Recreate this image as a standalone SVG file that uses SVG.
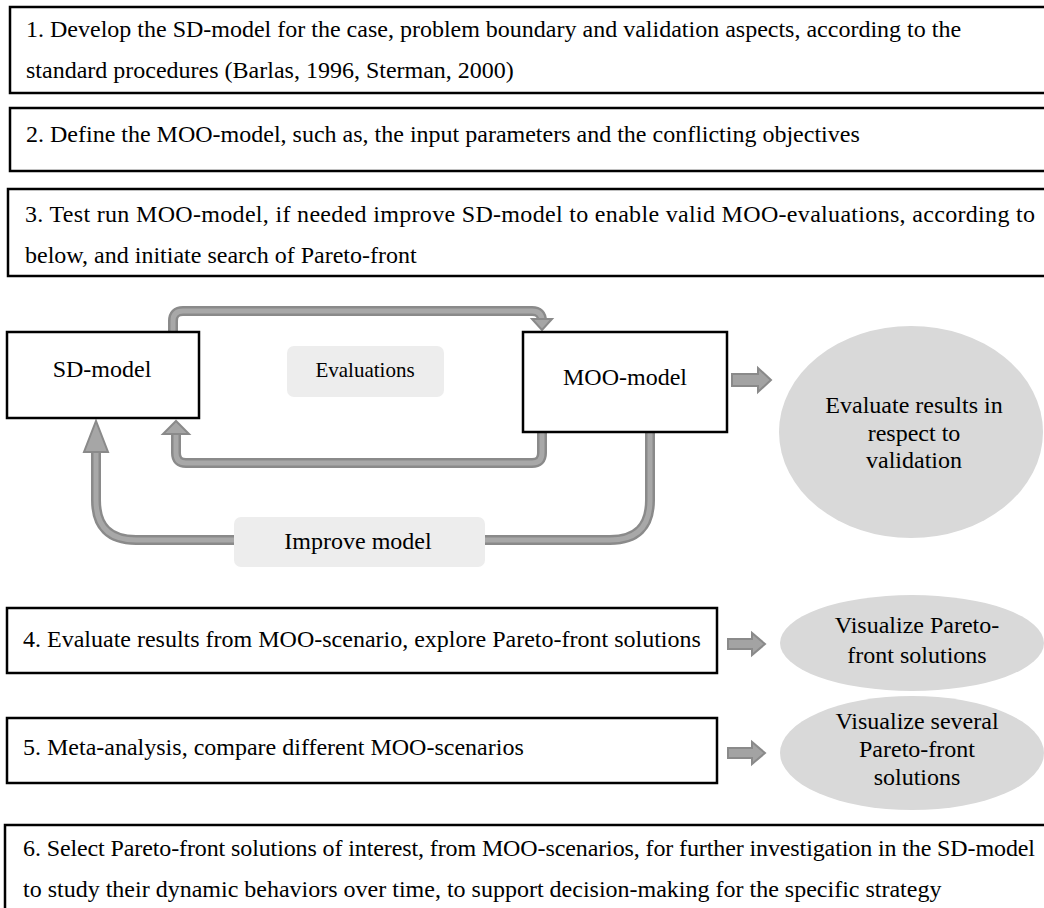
<svg xmlns="http://www.w3.org/2000/svg" width="1044" height="908" viewBox="0 0 1044 908">
<style>
text{font-family:"Liberation Serif","Times New Roman",serif;font-size:24px;fill:#000}
.box{fill:#fff;stroke:#000;stroke-width:2.5}
.ell{fill:#d9d9d9}
.lbl{fill:#ededed}
.c{text-anchor:middle}
.wo{fill:none;stroke:#8a8a8a;stroke-width:10}
.wi{fill:none;stroke:#a8a8a8;stroke-width:5}
.ah{fill:#a6a6a6;stroke:#8a8a8a;stroke-width:2;stroke-linejoin:miter}
.ba{fill:#a3a3a3;stroke:#8a8a8a;stroke-width:2}
</style>
<rect width="1044" height="908" fill="#fff"/>
<g id="step1"><rect class="box" x="10" y="7" width="1100" height="86"/>
<text x="26" y="37">1. Develop the SD-model for the case, problem boundary and validation aspects, according to the</text>
<text x="26" y="78">standard procedures (Barlas, 1996, Sterman, 2000)</text></g>
<g id="step2"><rect class="box" x="10" y="108" width="1100" height="63"/>
<text x="26" y="142">2. Define the MOO-model, such as, the input parameters and the conflicting objectives</text></g>
<g id="step3"><rect class="box" x="8" y="189" width="1100" height="87"/>
<text x="25" y="222" textLength="1010" lengthAdjust="spacing">3. Test run MOO-model, if needed improve SD-model to enable valid MOO-evaluations, according to</text>
<text x="25" y="263">below, and initiate search of Pareto-front</text></g>
<g id="connectors">
<path class="wo" d="M173 332 V321 Q173 311 183 311 H532 Q542 311 542 321"/>
<path class="wi" d="M173 332 V321 Q173 311 183 311 H532 Q542 311 542 321"/>
<polygon class="ah" points="532,319 552,319 542,330"/>
<path class="wo" d="M542 432 V453 Q542 463 532 463 H186 Q176 463 176 453 V434"/>
<path class="wi" d="M542 432 V453 Q542 463 532 463 H186 Q176 463 176 453 V434"/>
<polygon class="ah" points="163,434 189,434 176,421"/>
<path class="wo" d="M650 432 V500 Q650 540 610 540 H136 Q96 540 96 500 V451"/>
<path class="wi" d="M650 432 V500 Q650 540 610 540 H136 Q96 540 96 500 V451"/>
<polygon class="ah" points="84,452 108,452 96,421"/>
<polygon class="ba" points="732,374 758,374 758,368 771,380 758,392 758,386 732,386"/>
<polygon class="ba" points="728,639 752,639 752,633 765,644 752,655 752,649 728,649"/>
<polygon class="ba" points="728,748 752,748 752,742 765,753 752,764 752,758 728,758"/>
</g>
<g id="sd"><rect class="box" x="7" y="332" width="192" height="86"/>
<text class="c" x="102" y="377">SD-model</text></g>
<g id="moo"><rect class="box" x="523" y="332" width="204" height="100"/>
<text class="c" x="625" y="385">MOO-model</text></g>
<g id="evaluations"><rect class="lbl" x="287" y="346" width="157" height="51" rx="7"/>
<text class="c" x="365" y="377" style="font-size:21px">Evaluations</text></g>
<g id="improve"><rect class="lbl" x="234" y="517" width="251" height="50" rx="7"/>
<text class="c" x="358" y="549">Improve model</text></g>
<g id="validate"><ellipse class="ell" cx="911" cy="432" rx="132" ry="106"/>
<text class="c" x="914" y="413">Evaluate results in</text>
<text class="c" x="914" y="441">respect to</text>
<text class="c" x="914" y="468">validation</text></g>
<g id="step4"><rect class="box" x="7" y="608" width="710" height="65"/>
<text x="23" y="647">4. Evaluate results from MOO-scenario, explore Pareto-front solutions</text></g>
<g id="vis1"><ellipse class="ell" cx="912" cy="643" rx="132" ry="48"/>
<text class="c" x="917" y="633">Visualize Pareto-</text>
<text class="c" x="917" y="663">front solutions</text></g>
<g id="step5"><rect class="box" x="7" y="718" width="710" height="65"/>
<text x="23" y="755">5. Meta-analysis, compare different MOO-scenarios</text></g>
<g id="vis2"><ellipse class="ell" cx="912" cy="753" rx="132" ry="57"/>
<text class="c" x="917" y="729">Visualize several</text>
<text class="c" x="917" y="757">Pareto-front</text>
<text class="c" x="917" y="785">solutions</text></g>
<g id="step6"><rect class="box" x="5" y="825" width="1100" height="100"/>
<text x="23" y="856" textLength="1012" lengthAdjust="spacing">6. Select Pareto-front solutions of interest, from MOO-scenarios, for further investigation in the SD-model</text>
<text x="23" y="897">to study their dynamic behaviors over time, to support decision-making for the specific strategy</text></g>
</svg>
